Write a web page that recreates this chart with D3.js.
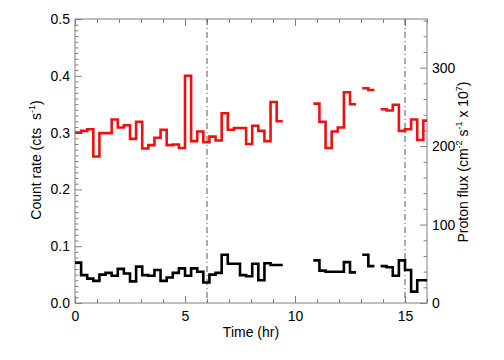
<!DOCTYPE html>
<html><head><meta charset="utf-8">
<script src="https://cdn.jsdelivr.net/npm/d3@7"></script>
<style>body{margin:0;background:#fff;} text{font-family:"Liberation Sans",Arial,Helvetica,sans-serif;}</style>
</head><body>
<svg id="c" width="504" height="360"></svg>
<script>
const binHours = 1000/3600;
const xTicks = [0,5,10,15];
const yTicks = [0.0,0.1,0.2,0.3,0.4,0.5];
const yTickLabels = ["0.0","0.1","0.2","0.3","0.4","0.5"];
const y2Ticks = [0,100,200,300];
const markerTimes = [6,15];
const redRate = [0.300,0.303,0.306,0.258,0.299,0.299,0.323,0.309,0.313,0.289,
  0.319,0.272,0.278,0.291,0.305,0.278,0.279,0.273,0.400,0.285,
  0.302,0.283,0.293,0.286,0.334,0.305,0.308,0.308,0.280,0.312,
  0.303,0.285,0.354,0.320,null,null,null,null,null,0.351,
  0.319,0.273,0.302,0.309,0.371,0.350,null,0.378,0.375,null,
  0.341,0.339,0.349,0.303,0.306,0.323,0.287,0.321];
const blackRate = [0.071,0.049,0.043,0.039,0.050,0.053,0.048,0.060,0.052,0.038,
  0.064,0.049,0.048,0.058,0.039,0.045,0.053,0.061,0.048,0.061,
  0.055,0.036,0.050,0.053,0.085,0.069,0.069,0.049,0.047,0.069,
  0.040,0.070,0.067,0.067,null,null,null,null,null,0.075,
  0.057,0.055,0.055,0.055,0.072,0.054,null,0.085,0.065,null,
  0.065,0.063,0.048,0.075,0.058,0.020,0.040,0.040];

const svg = d3.select("#c");
const L=75,R=427,T=19,B=303;
const x = d3.scaleLinear().domain([0,16]).range([L,R]);
const y = d3.scaleLinear().domain([0,0.5]).range([B,T]);
const y2 = d3.scaleLinear().domain([0,362]).range([B,T]);
const axisCol="#808080";
const FS=14;

svg.append("defs").append("clipPath").attr("id","clip")
  .append("rect").attr("x",L).attr("y",T).attr("width",R-L).attr("height",B-T);

svg.append("rect").attr("x",L).attr("y",T).attr("width",R-L).attr("height",B-T)
  .attr("fill","none").attr("stroke",axisCol).attr("stroke-width",1);

function tickStyle(g){ g.select(".domain").remove(); g.selectAll("line").attr("stroke",axisCol); g.selectAll("text").attr("font-size",FS).attr("fill","#000"); }

const xMinor = d3.range(0,17,1).filter(v=>!xTicks.includes(v));
svg.append("g").attr("transform",`translate(0,${B})`)
  .call(d3.axisBottom(x).tickValues(xMinor).tickSize(-4).tickFormat("")).call(tickStyle);
svg.append("g").attr("transform",`translate(0,${B})`)
  .call(d3.axisBottom(x).tickValues(xTicks).tickSize(-7).tickPadding(8).tickFormat(d3.format("d"))).call(tickStyle);
svg.append("g").attr("transform",`translate(0,${T})`)
  .call(d3.axisTop(x).tickValues(xMinor).tickSize(-4).tickFormat("")).call(tickStyle);
svg.append("g").attr("transform",`translate(0,${T})`)
  .call(d3.axisTop(x).tickValues(xTicks).tickSize(-7).tickFormat("")).call(tickStyle);
const yMinor = d3.range(0,51).map(v=>v/100).filter(v=>Math.round(v*100)%10!==0);
svg.append("g").attr("transform",`translate(${L},0)`)
  .call(d3.axisLeft(y).tickValues(yMinor).tickSize(-3.5).tickFormat("")).call(tickStyle);
svg.append("g").attr("transform",`translate(${L},0)`)
  .call(d3.axisLeft(y).tickValues(yTicks).tickSize(-7).tickPadding(5).tickFormat((d,i)=>yTickLabels[i])).call(tickStyle);
const y2Minor = d3.range(0,361,20).filter(v=>v%100!==0);
svg.append("g").attr("transform",`translate(${R},0)`)
  .call(d3.axisRight(y2).tickValues(y2Minor).tickSize(-3.5).tickFormat("")).call(tickStyle);
svg.append("g").attr("transform",`translate(${R},0)`)
  .call(d3.axisRight(y2).tickValues(y2Ticks).tickSize(-7).tickPadding(5).tickFormat(d3.format("d"))).call(tickStyle);

svg.selectAll(".mk").data(markerTimes).enter().append("line")
  .attr("x1",d=>x(d)).attr("x2",d=>x(d)).attr("y1",T).attr("y2",B)
  .attr("stroke","#555").attr("stroke-width",1).attr("stroke-dasharray","6,3,1,3");

function segments(vals){
  const segs=[]; let cur=null;
  vals.forEach((v,i)=>{
    if(v==null){ if(cur){segs.push(cur);cur=null;} return; }
    if(!cur) cur=[];
    cur.push([i*binHours,v]); cur.push([(i+1)*binHours,v]);
  });
  if(cur) segs.push(cur);
  return segs;
}
const line = d3.line().x(d=>x(d[0])).y(d=>y(d[1]));
const plot = svg.append("g").attr("clip-path","url(#clip)");
[[redRate,"#ee1111"],[blackRate,"#000"]].forEach(([vals,col])=>{
  plot.selectAll(null).data(segments(vals)).enter().append("path")
    .attr("d",line).attr("fill","none").attr("stroke",col).attr("stroke-width",2.6)
    .attr("stroke-linejoin","miter");
});

svg.append("text").attr("x",251).attr("y",337).attr("text-anchor","middle")
  .attr("font-size",FS).text("Time (hr)");
const lt = svg.append("text").attr("transform","translate(41,160) rotate(-90)")
  .attr("text-anchor","middle").attr("font-size",FS);
lt.append("tspan").text("Count rate (cts\u00a0\u00a0s");
lt.append("tspan").attr("font-size",9).attr("dy",-6).text("-1");
lt.append("tspan").attr("dy",6).text(")");
const rt = svg.append("text").attr("transform","translate(468,162) rotate(-90)")
  .attr("text-anchor","middle").attr("font-size",FS);
rt.append("tspan").text("Proton flux (cm");
rt.append("tspan").attr("font-size",9).attr("dy",-6).text("-2");
rt.append("tspan").attr("dy",6).text(" s");
rt.append("tspan").attr("font-size",9).attr("dy",-6).text("-1");
rt.append("tspan").attr("dy",6).text(" x 10");
rt.append("tspan").attr("font-size",9).attr("dy",-6).text("7");
rt.append("tspan").attr("dy",6).text(")");
</script>
</body></html>
